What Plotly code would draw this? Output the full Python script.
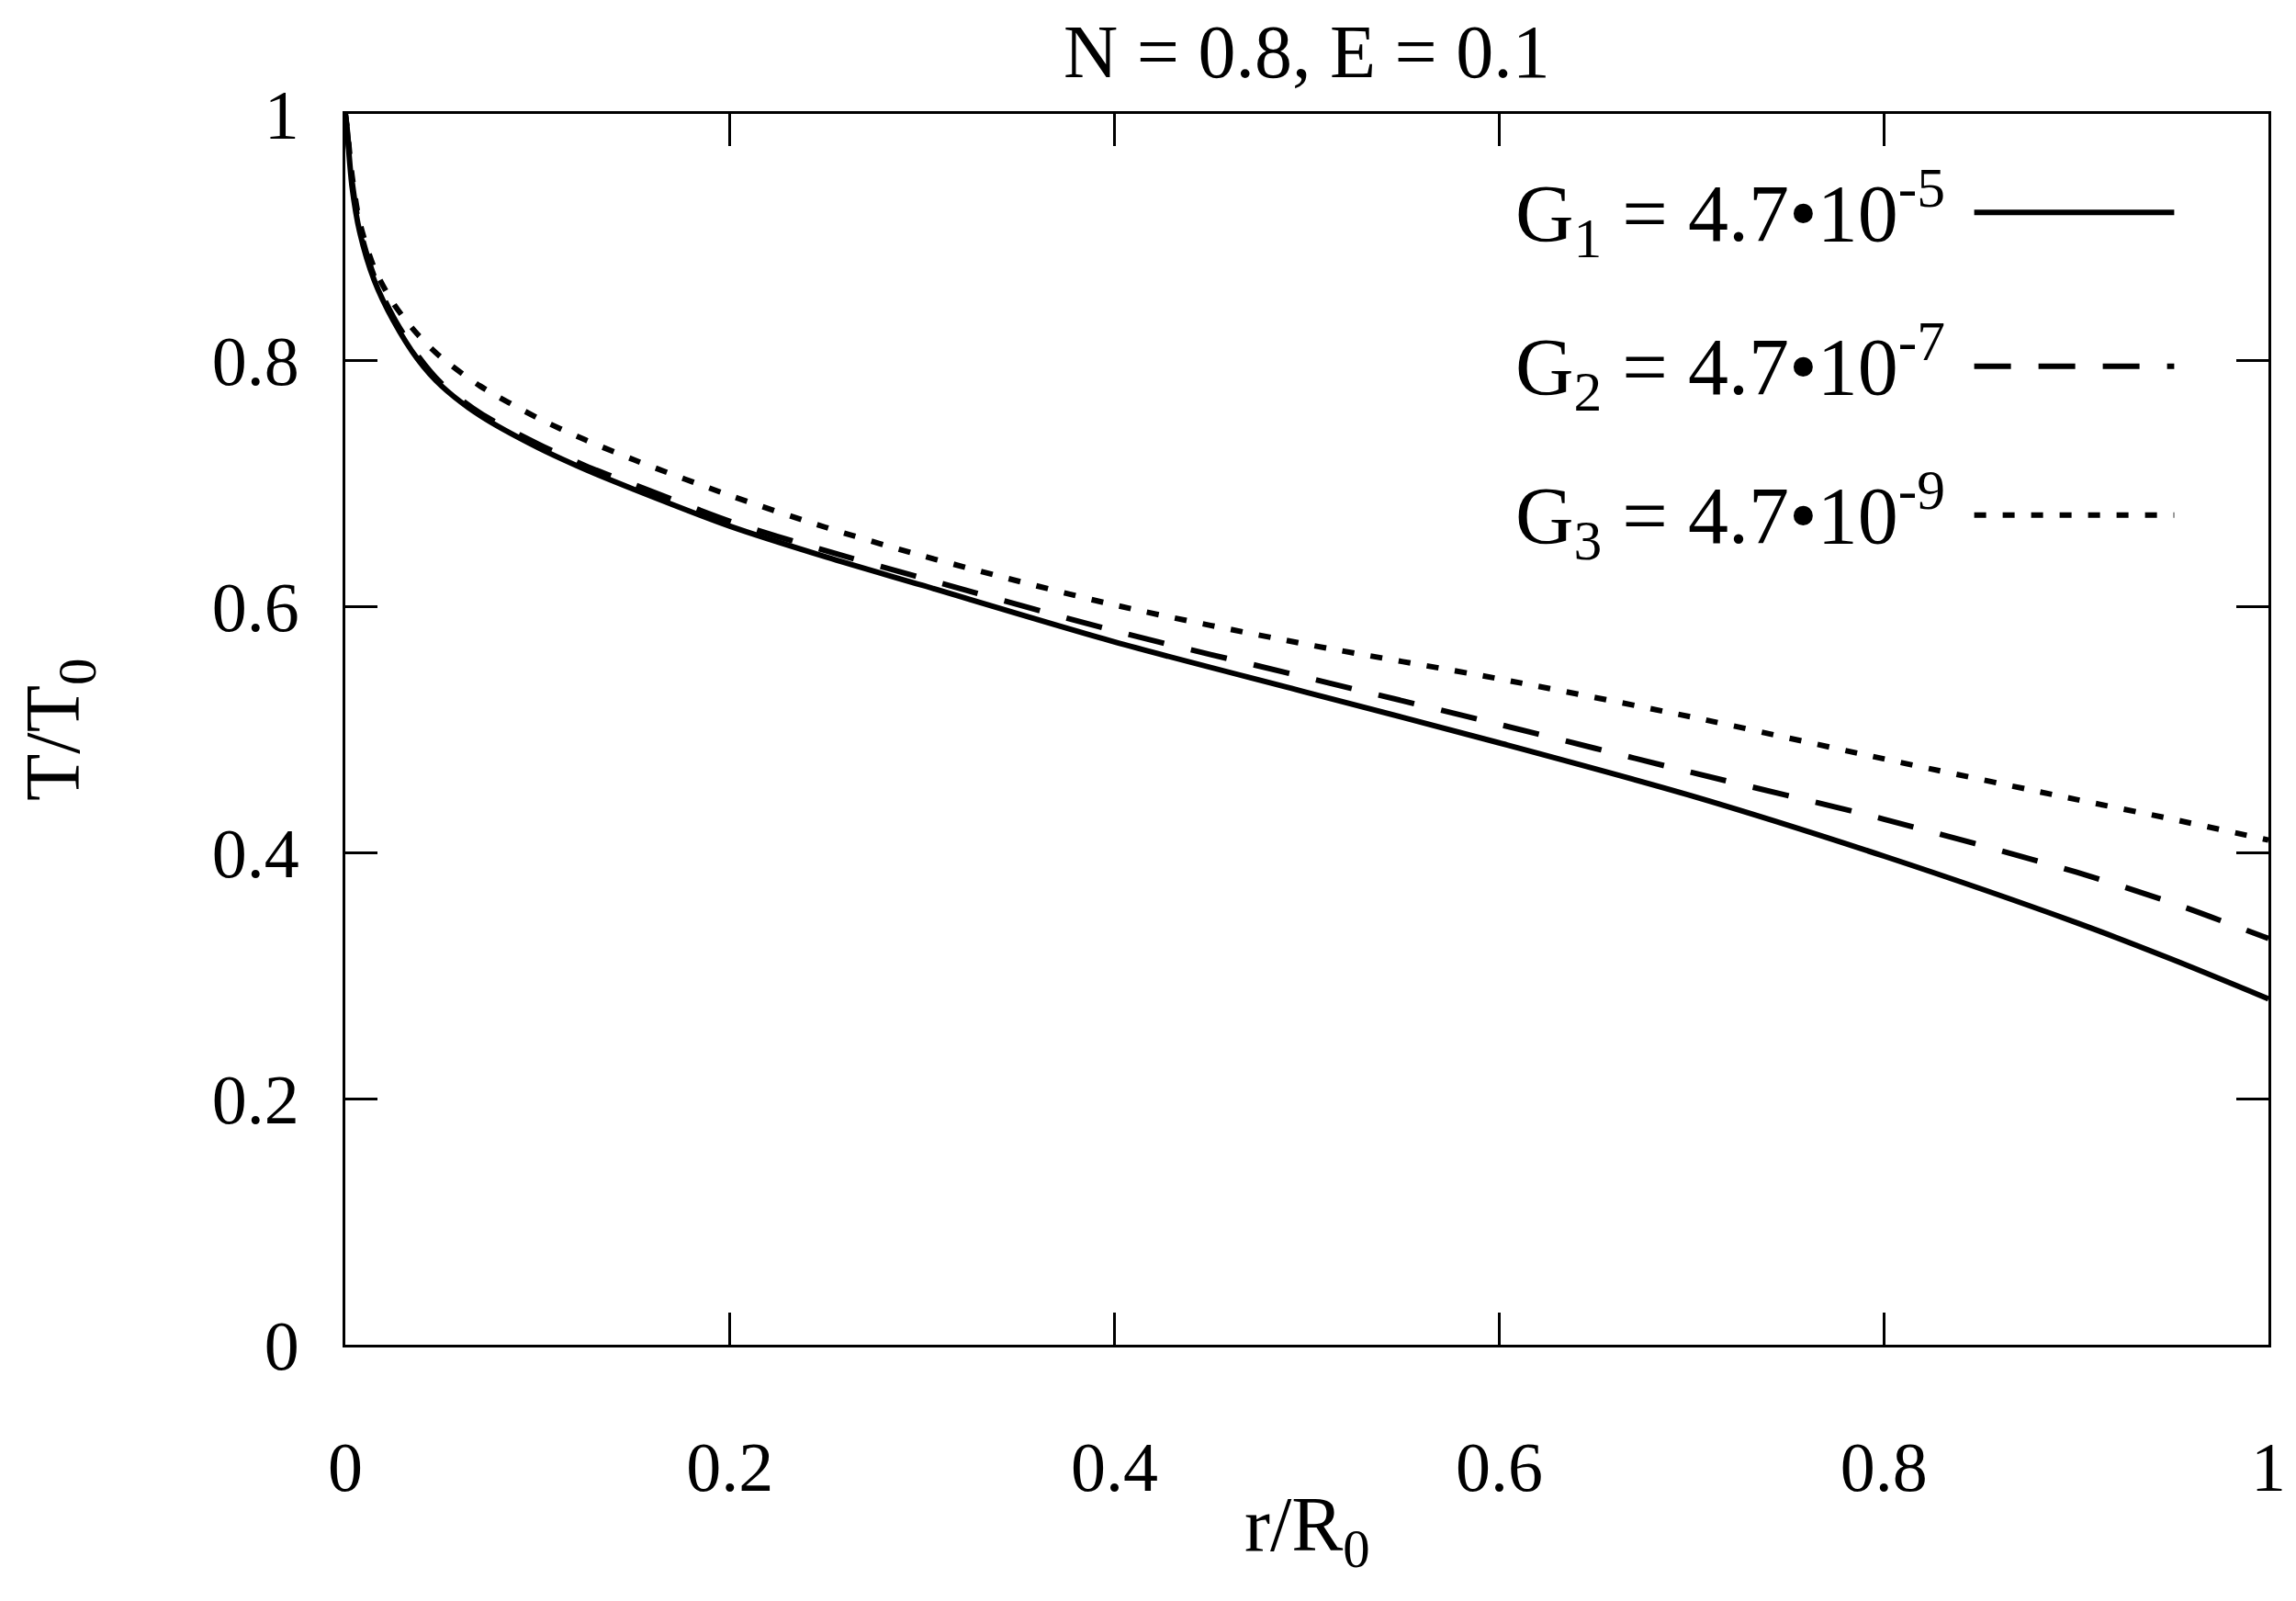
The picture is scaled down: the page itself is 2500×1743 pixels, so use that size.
import plotly.graph_objects as go

# r/R0 sample positions and T/T0
r = [0, 0.001, 0.0035, 0.0075, 0.015, 0.025, 0.0375, 0.05, 0.07, 0.1, 0.125, 0.15,
     0.2, 0.25, 0.3, 0.4, 0.5, 0.6, 0.7, 0.8, 0.9, 0.95, 1.0]
g1 = [1.0, 0.985, 0.941, 0.904, 0.865, 0.832, 0.801, 0.779, 0.755, 0.729, 0.711, 0.695,
      0.665, 0.640, 0.617, 0.571, 0.530, 0.489, 0.446, 0.397, 0.343, 0.313, 0.281]
g2 = [1.0, 0.987, 0.945, 0.907, 0.868, 0.835, 0.804, 0.781, 0.757, 0.732, 0.714, 0.699,
      0.669, 0.645, 0.623, 0.580, 0.542, 0.504, 0.465, 0.427, 0.384, 0.359, 0.330]
g3 = [1.0, 0.988, 0.950, 0.912, 0.875, 0.846, 0.821, 0.802, 0.779, 0.753, 0.735, 0.719,
      0.690, 0.664, 0.641, 0.601, 0.569, 0.541, 0.510, 0.476, 0.443, 0.427, 0.410]

names = ["G<sub>1</sub> = 4.7•10<sup>-5</sup>",
         "G<sub>2</sub> = 4.7•10<sup>-7</sup>",
         "G<sub>3</sub> = 4.7•10<sup>-9</sup>"]
dashes = ["solid", "40px,30px", "13px,18px"]
ticks = [0, 0.2, 0.4, 0.6, 0.8, 1]
tick_text = ["0", "0.2", "0.4", "0.6", "0.8", "1"]

FONT = "Liberation Serif"
fs = 76

fig = go.Figure()
for ys, nm, d in zip([g1, g2, g3], names, dashes):
    fig.add_trace(go.Scatter(x=r, y=ys, mode="lines", name=nm, showlegend=False,
                             line=dict(color="black", width=6, dash=d,
                                       shape="spline", smoothing=0.8)))

axis_style = dict(range=[0, 1], tickvals=ticks, ticktext=tick_text,
                  ticks="inside", ticklen=35, tickwidth=3, tickcolor="black",
                  showline=True, linewidth=3, linecolor="black", mirror="ticks",
                  showgrid=False, zeroline=False,
                  tickfont=dict(family=FONT, size=fs, color="black"))

fig.update_xaxes(**axis_style, ticklabelstandoff=65)
fig.update_yaxes(**axis_style, ticklabelstandoff=32)

# hand-made legend: text on the left, line sample on the right
legend_y = [0.920, 0.795, 0.674]
for nm, d, yy in zip(names, dashes, legend_y):
    fig.add_annotation(x=0.833, y=yy, xref="paper", yref="paper", text=nm,
                       showarrow=False, xanchor="right", yanchor="middle",
                       font=dict(family=FONT, size=88, color="black"))
    fig.add_shape(type="line", xref="paper", yref="paper",
                  x0=0.847, x1=0.951, y0=yy, y1=yy,
                  line=dict(color="black", width=6, dash=d))

fig.add_annotation(x=0.5, y=-0.151, xref="paper", yref="paper", text="r/R<sub>0</sub>",
                   showarrow=False, xanchor="center", yanchor="middle",
                   font=dict(family=FONT, size=84, color="black"))
fig.add_annotation(x=-0.149, y=0.5, xref="paper", yref="paper", text="T/T<sub>0</sub>",
                   showarrow=False, textangle=-90, xanchor="center", yanchor="middle",
                   font=dict(family=FONT, size=84, color="black"))
fig.add_annotation(x=0.5, y=1.05, xref="paper", yref="paper", text="N = 0.8, E = 0.1",
                   showarrow=False, xanchor="center", yanchor="middle",
                   font=dict(family=FONT, size=82, color="black"))

fig.update_layout(
    width=2500, height=1743,
    margin=dict(l=368, r=38, t=116, b=287),
    paper_bgcolor="white", plot_bgcolor="white",
)

fig.write_html("out.html")
